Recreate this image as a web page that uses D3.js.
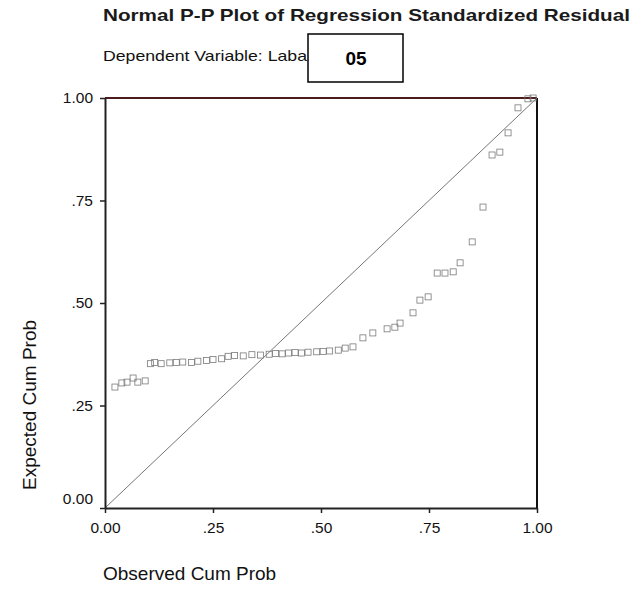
<!DOCTYPE html>
<html><head><meta charset="utf-8">
<script src="https://cdn.jsdelivr.net/npm/d3@7"></script>
<style>
html,body{margin:0;padding:0;background:#fff;}
svg{display:block;font-family:"Liberation Sans",Arial,sans-serif;}
</style></head>
<body>
<svg id="chart" width="634" height="599"></svg>
<script>
const observedCumProb = [
  0.023,0.039,0.051,0.065,0.076,0.093,
  0.105,0.115,0.13,0.15,0.165,0.18,0.2,0.215,0.235,0.25,0.27,
  0.285,0.3,0.32,0.34,0.36,0.38,0.395,0.41,0.425,0.44,0.455,0.47,0.49,0.505,0.52,0.54,
  0.556,0.574,0.597,0.62,0.653,0.671,0.683,0.713,0.729,0.748,0.769,0.787,0.806,0.822,0.85,0.875,0.896,0.914,0.933,0.956,0.979,0.991
];
const expectedCumProb = [
  0.295,0.305,0.307,0.317,0.307,0.31,
  0.352,0.355,0.352,0.354,0.355,0.356,0.355,0.358,0.36,0.362,0.364,
  0.37,0.372,0.371,0.374,0.373,0.375,0.377,0.376,0.378,0.379,0.378,0.38,0.381,0.382,0.383,0.385,
  0.39,0.393,0.415,0.427,0.437,0.441,0.451,0.476,0.507,0.515,0.573,0.573,0.576,0.598,0.649,0.734,0.861,0.868,0.915,0.976,0.998,1.0
];
const tickValues = [0, 0.25, 0.5, 0.75, 1];
const tickLabels = ["0.00", ".25", ".50", ".75", "1.00"];
const titleText = "Normal P-P Plot of Regression Standardized Residual";
const subtitleText = "Dependent Variable: Laba";
const boxText = "05";
const xLabel = "Observed Cum Prob";
const yLabel = "Expected Cum Prob";

(function(){
const svg = d3.select("#chart");
const pL = 105, pR = 537, pT = 98, pB = 508;
const x = d3.scaleLinear().domain([0,1]).range([pL,pR]);
const y = d3.scaleLinear().domain([0,1]).range([pB,pT]);

svg.append("text").attr("x",103).attr("y",21).attr("font-size",16.5).attr("font-weight","bold")
  .attr("textLength",527).attr("lengthAdjust","spacingAndGlyphs")
  .attr("fill","#1a1a1a").text(titleText);
svg.append("text").attr("x",103).attr("y",61).attr("font-size",14.5)
  .attr("textLength",204).attr("lengthAdjust","spacingAndGlyphs")
  .attr("fill","#111").text(subtitleText);

svg.append("line").attr("x1",pL).attr("x2",pR).attr("y1",pT).attr("y2",pT)
  .attr("stroke","#4a1c1c").attr("stroke-width",2);
svg.append("line").attr("x1",pR).attr("x2",pR).attr("y1",pT).attr("y2",pB)
  .attr("stroke","#111").attr("stroke-width",2);

svg.append("line").attr("x1",x(0)).attr("y1",y(0)).attr("x2",x(1)).attr("y2",y(1))
  .attr("stroke","#666").attr("stroke-width",0.9);

const xAxis = d3.axisBottom(x).tickValues(tickValues).tickSize(5).tickSizeOuter(0)
  .tickFormat((d,i)=>tickLabels[i]);
const yAxis = d3.axisLeft(y).tickValues(tickValues).tickSize(5).tickSizeOuter(0)
  .tickFormat((d,i)=>tickLabels[i]);
const gx = svg.append("g").attr("transform",`translate(0,${pB})`).call(xAxis);
const gy = svg.append("g").attr("transform",`translate(${pL},0)`).call(yAxis);
[gx,gy].forEach(g=>{
  g.select(".domain").attr("stroke","#222").attr("stroke-width",2);
  g.selectAll(".tick line").attr("stroke","#222").attr("stroke-width",1.5);
  g.selectAll(".tick text").attr("font-size",15.5).attr("fill","#111")
   .attr("font-family","Liberation Sans, Arial, sans-serif");
});
gx.selectAll(".tick text").attr("y",8).attr("dy","1.1em");
gy.selectAll(".tick text").attr("x",-12)
  .attr("dy",(d)=> d===0 ? "-0.3em" : "0.32em");

const pts = observedCumProb.map((d,i)=>({o:d,e:expectedCumProb[i]}));
svg.append("g").selectAll("rect").data(pts).join("rect")
  .attr("x",d=>x(d.o)-3).attr("y",d=>y(d.e)-3)
  .attr("width",6).attr("height",6)
  .attr("fill","none").attr("stroke","#7a7a7a").attr("stroke-width",0.8);

svg.append("text").attr("x",103).attr("y",580).attr("font-size",19)
  .attr("fill","#111").text(xLabel);
svg.append("text").attr("transform","translate(36,405) rotate(-90)")
  .attr("text-anchor","middle").attr("font-size",19).attr("fill","#111").text(yLabel);

svg.append("rect").attr("x",308).attr("y",34).attr("width",95).attr("height",48)
  .attr("fill","#fff").attr("stroke","#000").attr("stroke-width",1.5);
svg.append("text").attr("x",356).attr("y",65).attr("text-anchor","middle")
  .attr("font-size",19).attr("font-weight","bold").attr("fill","#000").text(boxText);
})();
</script>
</body></html>
